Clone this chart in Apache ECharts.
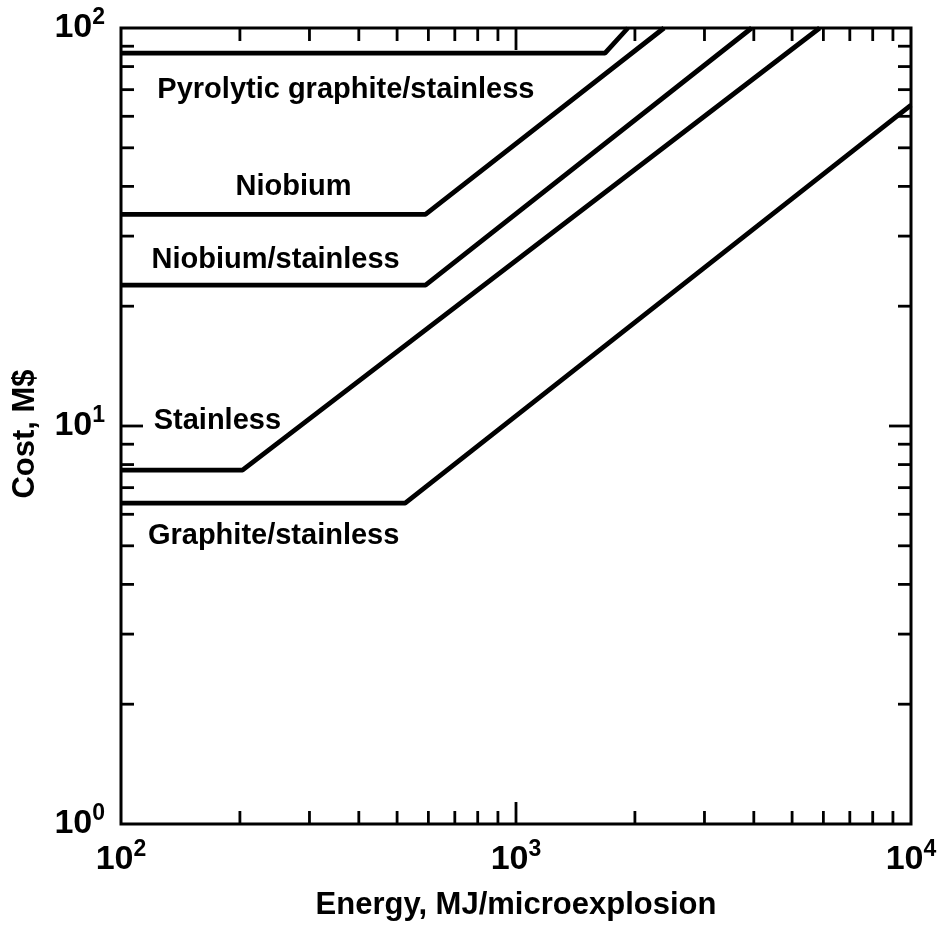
<!DOCTYPE html>
<html>
<head>
<meta charset="utf-8">
<script src="https://cdn.jsdelivr.net/npm/echarts@6/dist/echarts.min.js"></script>
<style>html,body{margin:0;padding:0;background:#fff;}#chart{width:941px;height:928px;}</style>
</head>
<body>
<div id="chart"></div>
<script>
// ---- data ----
const seriesNames = ['Pyrolytic graphite/stainless', 'Niobium', 'Niobium/stainless', 'Stainless', 'Graphite/stainless'];
const pyrolyticGraphiteStainless = [[100, 86.5], [1680, 86.5], [1920, 100]];
const niobium = [[100, 34], [590, 34], [2370, 100]];
const niobiumStainless = [[100, 22.6], [590, 22.6], [3950, 100]];
const stainless = [[100, 7.75], [203, 7.75], [5872, 100]];
const graphiteStainless = [[100, 6.4], [524, 6.4], [10000, 64]];
// label anchors (left edge, vertical centre) in data units
const labelAnchors = [[123.6, 70], [195, 39.8], [119.5, 26.1], [121, 10.3], [117, 5.3]];
// axis ticks
const xMajorTicks = [1000];
const xMinorTicks = [200, 300, 400, 500, 600, 700, 800, 900, 2000, 3000, 4000, 5000, 6000, 7000, 8000, 9000];
const yMajorTicks = [10];
const yMinorTicks = [2, 3, 4, 5, 6, 7, 8, 9, 20, 30, 40, 50, 60, 70, 80, 90];
const xTitle = 'Energy, MJ/microexplosion';
const yTitle = 'Cost, M$';

const FONT = '"Liberation Sans", Arial, Helvetica, sans-serif';
const chart = echarts.init(document.getElementById('chart'));

const tickData = [];
xMajorTicks.forEach(v => tickData.push([v, 1, 0, 1]));
xMinorTicks.forEach(v => tickData.push([v, 1, 0, 0]));
yMajorTicks.forEach(v => tickData.push([100, v, 1, 1]));
yMinorTicks.forEach(v => tickData.push([100, v, 1, 0]));

const powLabel = v => '{b|10}{s|' + Math.round(Math.log10(v)) + '}';
const labelRich = {
  b: { fontSize: 34, fontWeight: 'bold', fontFamily: FONT, color: '#000' },
  s: { fontSize: 23, fontWeight: 'bold', fontFamily: FONT, color: '#000', padding: [0, 0, 20, 0] }
};

const lineSeries = [pyrolyticGraphiteStainless, niobium, niobiumStainless, stainless, graphiteStainless].map((d, i) => ({
  name: seriesNames[i], type: 'line', data: d, showSymbol: false, symbol: 'none',
  lineStyle: { color: '#000', width: 4.8 }, clip: true, z: 3
}));

const option = {
  backgroundColor: '#fff',
  animation: false,
  grid: { left: 121, right: 30, top: 28, bottom: 104, show: true, borderColor: '#000', borderWidth: 3, backgroundColor: 'transparent' },
  xAxis: {
    type: 'log', logBase: 10, min: 100, max: 10000,
    name: xTitle, nameLocation: 'middle', nameGap: 66,
    nameTextStyle: { fontSize: 31, fontWeight: 'bold', fontFamily: FONT, color: '#000' },
    axisLine: { show: false }, axisTick: { show: false }, splitLine: { show: false }, minorTick: { show: false },
    axisLabel: { formatter: powLabel, rich: labelRich, margin: 14, showMinLabel: true, showMaxLabel: true }
  },
  yAxis: {
    type: 'log', logBase: 10, min: 1, max: 100,
    name: yTitle, nameLocation: 'middle', nameGap: 80, nameRotate: 90,
    nameTextStyle: { fontSize: 31, fontWeight: 'bold', fontFamily: FONT, color: '#000', padding: [0, 16, 0, 0] },
    axisLine: { show: false }, axisTick: { show: false }, splitLine: { show: false }, minorTick: { show: false },
    axisLabel: { formatter: powLabel, rich: labelRich, margin: 16, showMinLabel: true, showMaxLabel: true }
  },
  series: lineSeries.concat([
    {
      type: 'custom', coordinateSystem: 'cartesian2d', data: tickData, clip: false, z: 4, silent: true,
      renderItem: function (params, api) {
        const cs = params.coordSys;
        const major = api.value(3) === 1;
        const len = major ? 22 : 13;
        const st = { stroke: '#000', lineWidth: 2.8 };
        if (api.value(2) === 0) {
          const px = api.coord([api.value(0), 1])[0];
          const yb = cs.y + cs.height, yt = cs.y;
          return { type: 'group', children: [
            { type: 'line', shape: { x1: px, y1: yb, x2: px, y2: yb - len }, style: st },
            { type: 'line', shape: { x1: px, y1: yt, x2: px, y2: yt + len }, style: st }
          ] };
        } else {
          const py = api.coord([100, api.value(1)])[1];
          const xl = cs.x, xr = cs.x + cs.width;
          return { type: 'group', children: [
            { type: 'line', shape: { x1: xl, y1: py, x2: xl + len, y2: py }, style: st },
            { type: 'line', shape: { x1: xr, y1: py, x2: xr - len, y2: py }, style: st }
          ] };
        }
      }
    },
    {
      type: 'scatter', symbolSize: 0, z: 5, silent: true,
      itemStyle: { opacity: 1 },
      data: labelAnchors.map((p, i) => ({ value: p, name: seriesNames[i] })),
      label: {
        show: true, position: 'right', distance: 0, formatter: '{b}',
        fontSize: 29, fontWeight: 'bold', fontFamily: FONT, color: '#000', align: 'left', verticalAlign: 'middle'
      }
    }
  ])
};
chart.setOption(option);
</script>
</body>
</html>
